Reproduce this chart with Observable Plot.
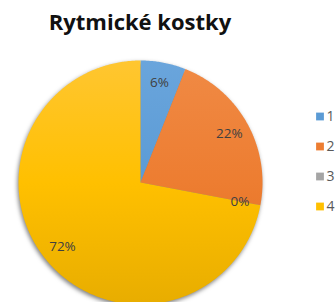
<!DOCTYPE html>
<html><head><meta charset="utf-8">
<script src="https://cdn.jsdelivr.net/npm/d3@7"></script>
<script src="https://cdn.jsdelivr.net/npm/@observablehq/plot@0.6"></script>
<style>
body{margin:0;background:#fff;width:336px;height:302px;overflow:hidden;position:relative;font-family:"Open Sans",sans-serif}
#title{position:absolute;left:0;top:0;width:280px;text-align:center;font-weight:bold;font-size:22px;color:#111;line-height:26px;padding-top:8px}
#pie{position:absolute;left:0;top:0}
#legend{position:absolute;left:300px;top:80px}
</style></head><body>
<div id="pie"></div><div id="title">Rytmické kostky</div><div id="legend"></div>
<script>
const categories = ["1","2","3","4"];
const values = [6, 22, 0, 72];
const labels = ["6%","22%","0%","72%"];
const colors = ["#5B9BD5","#ED7D31","#A5A5A5","#FFC000"];
const lightColors = ["#6aa5dc","#f08a45","#b0b0b0","#ffc631"];
const darkColors = ["#4a8ac6","#e06c1e","#959595","#e8ad00"];

const pie = d3.pie().sort(null).startAngle(0).endAngle(2*Math.PI)(values);
const poly = [];
const labelPts = [];
pie.forEach((p, i) => {
  const n = Math.max(2, Math.ceil((p.endAngle - p.startAngle) / 0.01));
  poly.push({key: categories[i], x: 0, y: 0});
  for (let k = 0; k <= n; k++) {
    const a = p.startAngle + (p.endAngle - p.startAngle) * k / n;
    poly.push({key: categories[i], x: Math.sin(a), y: Math.cos(a)});
  }
  const m = (p.startAngle + p.endAngle) / 2;
  const lr = 0.83;
  labelPts.push({label: labels[i], x: lr*Math.sin(m), y: lr*Math.cos(m)});
});

const R = 122, cx = 140, cy = 182;
const chart = Plot.plot({
  width: 336, height: 302, margin: 0,
  x: {domain: [-1, 1], range: [cx - R, cx + R], axis: null},
  y: {domain: [-1, 1], range: [cy + R, cy - R], axis: null},
  color: {domain: categories, range: colors},
  marks: [
    Plot.line(poly, {x: "x", y: "y", z: "key", fill: "key", stroke: null, curve: "linear-closed", className: "slices"}),
    Plot.text(labelPts, {x: "x", y: "y", text: "label", fill: "#404040", fontSize: 13.5, fontFamily: "Open Sans"})
  ]
});
document.getElementById("pie").appendChild(chart);

const svg = d3.select(chart);
const defs = svg.insert("defs", ":first-child");
categories.forEach((c, i) => {
  const g = defs.append("linearGradient").attr("id", "g" + i)
    .attr("gradientUnits", "userSpaceOnUse").attr("x1", 0).attr("x2", 0)
    .attr("y1", cy - R).attr("y2", cy + R);
  g.append("stop").attr("offset", "0%").attr("stop-color", lightColors[i]);
  g.append("stop").attr("offset", "50%").attr("stop-color", colors[i]);
  g.append("stop").attr("offset", "100%").attr("stop-color", darkColors[i]);
});
const sliceG = svg.select("g.slices");
sliceG.style("filter", "drop-shadow(-1px 2px 2px rgba(0,0,0,0.5))");
sliceG.selectAll("path").each(function() {
  const key = d3.select(this).attr("fill");
  const idx = colors.indexOf(key);
  d3.select(this).attr("fill", idx >= 0 ? `url(#g${idx})` : key);
});

const legend = Plot.plot({
  width: 36, height: 162, margin: 0,
  y: {domain: categories, type: "point", range: [21, 141], axis: null},
  color: {domain: categories, range: colors},
  marks: [
    Plot.dot(categories, {y: d => d, frameAnchor: "left", dx: 19.5, symbol: "square", r: 4.4, fill: d => d, stroke: null}),
    Plot.text(categories, {y: d => d, frameAnchor: "left", dx: 26, text: d => d, textAnchor: "start", fill: "#595959", fontSize: 14, fontFamily: "Open Sans"})
  ]
});
document.getElementById("legend").appendChild(legend);
</script></body></html>
